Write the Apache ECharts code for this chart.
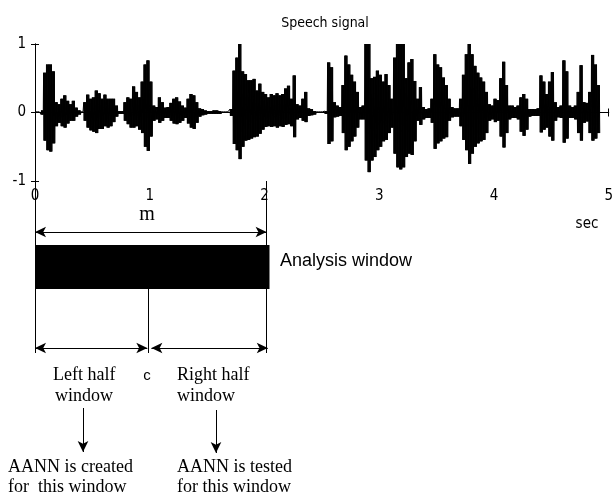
<!DOCTYPE html>
<html>
<head>
<meta charset="utf-8">
<script src="https://cdn.jsdelivr.net/npm/echarts@6/dist/echarts.min.js"></script>
<style>html,body{margin:0;padding:0;background:#fff}#c{width:616px;height:500px}</style>
</head>
<body>
<div id="c"></div>
<script>
// ---- data ----
const timeTicks = [0, 1, 2, 3, 4, 5];          // sec
const ampTicks = [-1, 0, 1];
const binStep = 0.025;                          // sec per envelope bin
// upper / lower envelope of the speech waveform, one value per 0.025 s bin
const envUpper = [
0.01,0.01,0.03,0.58,0.70,0.70,0.60,0.15,0.12,0.20,0.25,0.17,0.12,0.17,0.07,0.03,0.01,0.15,0.26,0.20,
0.22,0.32,0.28,0.20,0.26,0.20,0.20,0.20,0.10,0.02,0.02,0.15,0.22,0.20,0.38,0.30,0.22,0.45,0.70,0.76,
0.45,0.10,0.08,0.22,0.15,0.07,0.08,0.14,0.20,0.22,0.16,0.10,0.07,0.20,0.27,0.25,0.15,0.06,0.05,0.03,
0.02,0.02,0.03,0.03,0.02,0.01,0.01,0.01,0.05,0.61,0.80,1.00,0.60,0.56,0.47,0.47,0.49,0.32,0.42,0.30,
0.27,0.22,0.27,0.25,0.28,0.25,0.27,0.35,0.39,0.20,0.54,0.12,0.10,0.20,0.30,0.06,0.05,0.02,0.01,0.01,
0.01,0.02,0.73,0.66,0.15,0.10,0.08,0.40,0.83,0.70,0.55,0.45,0.30,0.08,0.10,1.00,1.00,0.50,0.52,0.61,
0.55,0.45,0.56,0.40,0.20,0.80,1.00,1.00,1.00,0.50,0.73,0.78,0.46,0.20,0.37,0.08,0.05,0.06,0.20,0.85,
0.70,0.66,0.51,0.40,0.20,0.08,0.06,0.06,0.20,0.55,0.85,1.00,0.85,0.68,0.58,0.51,0.45,0.30,0.12,0.10,
0.20,0.18,0.50,0.74,0.40,0.10,0.10,0.08,0.10,0.22,0.27,0.20,0.05,0.05,0.05,0.06,0.54,0.45,0.27,0.45,
0.59,0.15,0.08,0.10,0.76,0.60,0.10,0.08,0.10,0.30,0.69,0.15,0.14,0.30,0.84,0.70,0.40
];
const envLower = [
-0.01,-0.01,-0.03,-0.41,-0.55,-0.57,-0.45,-0.20,-0.15,-0.20,-0.22,-0.16,-0.12,-0.12,-0.06,-0.03,-0.01,-0.12,-0.22,-0.26,
-0.28,-0.30,-0.24,-0.24,-0.20,-0.22,-0.20,-0.14,-0.06,-0.02,-0.02,-0.12,-0.17,-0.22,-0.22,-0.20,-0.25,-0.30,-0.50,-0.56,
-0.35,-0.12,-0.10,-0.15,-0.12,-0.08,-0.08,-0.12,-0.16,-0.17,-0.15,-0.12,-0.08,-0.16,-0.22,-0.24,-0.15,-0.06,-0.04,-0.03,
-0.02,-0.02,-0.02,-0.02,-0.02,-0.01,-0.01,-0.01,-0.05,-0.46,-0.55,-0.68,-0.50,-0.41,-0.40,-0.38,-0.36,-0.35,-0.31,-0.25,
-0.21,-0.20,-0.21,-0.20,-0.22,-0.20,-0.21,-0.18,-0.17,-0.20,-0.36,-0.10,-0.08,-0.12,-0.14,-0.05,-0.04,-0.03,-0.01,-0.01,
-0.01,-0.02,-0.46,-0.42,-0.07,-0.06,-0.05,-0.30,-0.55,-0.50,-0.42,-0.35,-0.22,-0.10,-0.10,-0.70,-0.87,-0.70,-0.65,-0.55,
-0.50,-0.42,-0.40,-0.30,-0.22,-0.60,-0.80,-0.83,-0.80,-0.65,-0.60,-0.62,-0.42,-0.12,-0.18,-0.10,-0.08,-0.08,-0.15,-0.53,
-0.45,-0.42,-0.38,-0.36,-0.12,-0.07,-0.06,-0.06,-0.20,-0.40,-0.55,-0.75,-0.60,-0.50,-0.45,-0.42,-0.40,-0.30,-0.12,-0.10,
-0.14,-0.12,-0.35,-0.51,-0.30,-0.10,-0.08,-0.08,-0.10,-0.28,-0.34,-0.25,-0.06,-0.05,-0.05,-0.05,-0.29,-0.25,-0.22,-0.35,
-0.41,-0.12,-0.07,-0.08,-0.44,-0.38,-0.08,-0.08,-0.10,-0.30,-0.41,-0.15,-0.13,-0.30,-0.41,-0.38,-0.30
];
// analysis window: start, centre c, end (sec)
const windowBounds = [0, 0.98, 2];

// ---- build: dense oscillation filling each bin between its envelope values ----
const subSteps = 8;
const wave = [];
envUpper.forEach((u, i) => {
  const t = i * binStep;
  for (let k = 0; k < subSteps; k++) {
    wave.push([t + k * binStep / subSteps, k % 2 === 0 ? u : envLower[i]]);
  }
});

const narrow = '"Liberation Sans Narrow","DejaVu Sans Condensed","Liberation Sans",Arial,sans-serif';
const sans = '"Liberation Sans",Arial,sans-serif';
const serif = '"Liberation Serif","Times New Roman",serif';
const black = '#000';
const [wStart, wMid, wEnd] = windowBounds;

function seg(x1, y1, x2, y2, s1, s2) {
  return [{coord: [x1, y1], symbol: s1 || 'none'}, {coord: [x2, y2], symbol: s2 || 'none'}];
}

const chart = echarts.init(document.getElementById('c'), null, {renderer: 'canvas'});
const axisBase = {
  type: 'value', min: 0, max: 5, interval: 1,
  axisLine: {show: true, lineStyle: {color: black, width: 1}},
  axisTick: {show: true, inside: true, length: 4, lineStyle: {color: black}},
  splitLine: {show: false}
};
chart.setOption({
  animation: false,
  backgroundColor: '#fff',
  title: {
    text: 'Speech signal', left: 320, top: 11, textAlign: 'center',
    textStyle: {fontFamily: narrow, fontSize: 14, fontWeight: 'normal', color: black}
  },
  grid: [
    {left: 35, right: 2, top: 44, bottom: 319, show: false},
    {left: 35, right: 2, top: 181, bottom: 0, show: false}
  ],
  xAxis: [
    Object.assign({}, axisBase, {gridIndex: 0, position: 'bottom',
      axisLabel: {show: true, margin: 8, color: black, fontFamily: narrow, fontSize: 15,
        customValues: timeTicks}}),
    Object.assign({}, axisBase, {gridIndex: 0, position: 'top', axisLabel: {show: false}}),
    {type: 'value', gridIndex: 1, min: 0, max: 5, show: false}
  ],
  yAxis: [
    Object.assign({}, axisBase, {gridIndex: 0, min: -1, max: 1, interval: 1, position: 'left',
      axisLabel: {show: true, margin: 9, color: black, fontFamily: narrow, fontSize: 15}}),
    Object.assign({}, axisBase, {gridIndex: 0, min: -1, max: 1, interval: 1, position: 'right',
      axisLabel: {show: false}}),
    {type: 'value', gridIndex: 1, min: 0, max: 319, inverse: true, show: false}
  ],
  series: [
    {
      name: 'Speech signal', type: 'line', xAxisIndex: 0, yAxisIndex: 0,
      data: wave, showSymbol: false, symbol: 'none', silent: true,
      lineStyle: {color: black, width: 1}, clip: true
    },
    {
      name: 'diagram', type: 'line', xAxisIndex: 2, yAxisIndex: 2, data: [], silent: true,
      markArea: {
        silent: true,
        itemStyle: {color: black, borderWidth: 0},
        label: {show: false},
        data: [[{coord: [wStart, 64]}, {coord: [wEnd + 0.025, 108]}]]
      },
      markLine: {
        silent: true, animation: false,
        symbolSize: [8, 11],
        label: {show: false},
        lineStyle: {color: black, width: 1, type: 'solid'},
        emphasis: {disabled: true},
        data: [
          seg(wStart, 0, wStart, 172),
          seg(wEnd, 0, wEnd, 172),
          seg(wStart, 51, wEnd, 51, 'arrow', 'arrow'),
          seg(wMid, 108, wMid, 172),
          seg(wStart, 167, wMid - 0.01, 167, 'arrow', 'arrow'),
          seg(wMid + 0.025, 167, wEnd + 0.01, 167, 'arrow', 'arrow'),
          seg(0.4145, 227, 0.4145, 271, 'none', 'arrow'),
          seg(1.563, 229, 1.563, 272, 'none', 'arrow')
        ]
      }
    }
  ],
  graphic: [
    {type: 'text', x: 147, y: 215, style: {text: 'm', font: '20px ' + serif, fill: black, textAlign: 'center', textVerticalAlign: 'middle'}},
    {type: 'text', x: 587, y: 224, style: {text: 'sec', font: '15px ' + narrow, fill: black, textAlign: 'center', textVerticalAlign: 'middle'}},
    {type: 'text', x: 280, y: 261, style: {text: 'Analysis window', font: '18px ' + sans, fill: black, textAlign: 'left', textVerticalAlign: 'middle'}},
    {type: 'text', x: 53, y: 375, style: {text: 'Left half', font: '18px ' + serif, fill: black, textAlign: 'left', textVerticalAlign: 'middle'}},
    {type: 'text', x: 55, y: 396, style: {text: 'window', font: '18px ' + serif, fill: black, textAlign: 'left', textVerticalAlign: 'middle'}},
    {type: 'text', x: 147, y: 376, style: {text: 'c', font: '15px ' + sans, fill: black, textAlign: 'center', textVerticalAlign: 'middle'}},
    {type: 'text', x: 177, y: 375, style: {text: 'Right half', font: '18px ' + serif, fill: black, textAlign: 'left', textVerticalAlign: 'middle'}},
    {type: 'text', x: 177, y: 396, style: {text: 'window', font: '18px ' + serif, fill: black, textAlign: 'left', textVerticalAlign: 'middle'}},
    {type: 'text', x: 8, y: 467, style: {text: 'AANN is created', font: '18px ' + serif, fill: black, textAlign: 'left', textVerticalAlign: 'middle'}},
    {type: 'text', x: 8, y: 487, style: {text: 'for  this window', font: '18px ' + serif, fill: black, textAlign: 'left', textVerticalAlign: 'middle'}},
    {type: 'text', x: 177, y: 467, style: {text: 'AANN is tested', font: '18px ' + serif, fill: black, textAlign: 'left', textVerticalAlign: 'middle'}},
    {type: 'text', x: 177, y: 487, style: {text: 'for this window', font: '18px ' + serif, fill: black, textAlign: 'left', textVerticalAlign: 'middle'}}
  ]
});
</script>
</body>
</html>
